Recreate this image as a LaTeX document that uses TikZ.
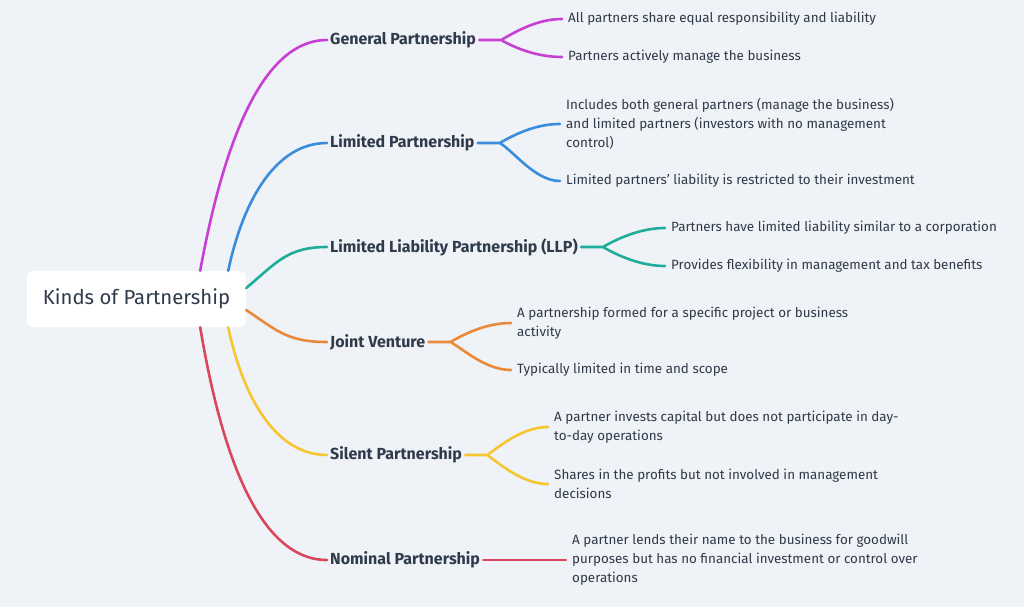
\documentclass[tikz,border=0pt]{standalone}
\usepackage{fontspec}
\setmainfont{Fira Sans}
\usetikzlibrary{positioning}
\definecolor{bgcol}{HTML}{EFF2F6}
\definecolor{txtcol}{HTML}{2F3A4A}
\definecolor{cmag}{HTML}{C83FD6}
\definecolor{cblue}{HTML}{3A8DDC}
\definecolor{cteal}{HTML}{1FAD9B}
\definecolor{corange}{HTML}{E98A3B}
\definecolor{cyellow}{HTML}{F6C631}
\definecolor{cred}{HTML}{D8475B}

\begin{document}
\begin{tikzpicture}[x=1pt,y=-1pt,
    every node/.style={text=txtcol},
    rootbox/.style={fill=white,rounded corners=6pt,minimum width=219pt,minimum height=56pt,
      font=\fontsize{20.3}{24}\selectfont},
    kind/.style={anchor=west,inner xsep=3pt,font=\fontsize{16}{19}\selectfont\bfseries},
    leaf/.style={anchor=west,inner xsep=0pt,align=left,font=\fontsize{13.4}{19}\selectfont},
    wire/.style={line width=2.6pt,line cap=round}]
  % background and bounding box
  \fill[bgcol] (0,0) rectangle (1024,607);
  \useasboundingbox (0,0) rectangle (1024,607);

  \node[rootbox] (root) at (136.5,299) {Kinds of Partnership};

  % kinds
  \node[kind] (gp)  at (327,40)  {General Partnership};
  \node[kind] (lp)  at (327,143) {Limited Partnership};
  \node[kind] (llp) at (327,247) {Limited Liability Partnership (LLP)};
  \node[kind] (jv)  at (327,342) {Joint Venture};
  \node[kind] (sp)  at (327,455) {Silent Partnership};
  \node[kind] (np)  at (327,560) {Nominal Partnership};

  % details
  \node[leaf] (gp_1) at (568,19)  {All partners share equal responsibility and liability};
  \node[leaf] (gp_2) at (568,57)  {Partners actively manage the business};
  \node[leaf] (lp_1) at (566,124) {Includes both general partners (manage the business)\\and limited partners (investors with no management\\control)};
  \node[leaf] (lp_2) at (566,181) {Limited partners’ liability is restricted to their investment};
  \node[leaf] (llp_1) at (671,228) {Partners have limited liability similar to a corporation};
  \node[leaf] (llp_2) at (671,266) {Provides flexibility in management and tax benefits};
  \node[leaf] (jv_1) at (517,323) {A partnership formed for a specific project or business\\activity};
  \node[leaf] (jv_2) at (517,370) {Typically limited in time and scope};
  \node[leaf] (sp_1) at (554,427) {A partner invests capital but does not participate in day-\\to-day operations};
  \node[leaf] (sp_2) at (554,484) {Shares in the profits but not involved in management\\decisions};
  \node[leaf] (np_1) at (572,560) {A partner lends their name to the business for goodwill\\purposes but has no financial investment or control over\\operations};

  % root to kinds
  \draw[wire,cmag] ([xshift=-46pt]root.north east) .. controls +(20,-110) and +(-70,0) .. (gp.west);
  \draw[wire,cblue] ([xshift=-18pt]root.north east) .. controls +(15,-71) and +(-51,0) .. (lp.west);
  \draw[wire,cteal] ([yshift=11pt]root.east) .. controls +(30,-25) and +(-40,0) .. (llp.west);
  \draw[wire,corange] ([yshift=-11pt]root.east) .. controls +(30,20) and +(-40,0) .. (jv.west);
  \draw[wire,cyellow] ([xshift=-18pt]root.south east) .. controls +(15,71) and +(-51,0) .. (sp.west);
  \draw[wire,cred] ([xshift=-46pt]root.south east) .. controls +(20,120) and +(-70,0) .. (np.west);

  % kinds to details
  \coordinate (gp_f)  at ([xshift=22pt]gp.east);
  \coordinate (lp_f)  at ([xshift=22pt]lp.east);
  \coordinate (llp_f) at ([xshift=22pt]llp.east);
  \coordinate (jv_f)  at ([xshift=22pt]jv.east);
  \coordinate (sp_f)  at ([xshift=22pt]sp.east);

  \draw[wire,cmag] (gp.east) -- (gp_f)
    (gp_f) .. controls +(14,-8) and +(-25,0) .. ([xshift=-6pt]gp_1.west)
    (gp_f) .. controls +(14,8) and +(-25,0) .. ([xshift=-6pt]gp_2.west);
  \draw[wire,cblue] (lp.east) -- (lp_f)
    (lp_f) .. controls +(14,-8) and +(-25,0) .. ([xshift=-6pt]lp_1.west)
    (lp_f) .. controls +(14,8) and +(-25,0) .. ([xshift=-6pt]lp_2.west);
  \draw[wire,cteal] (llp.east) -- (llp_f)
    (llp_f) .. controls +(14,-8) and +(-25,0) .. ([xshift=-6pt]llp_1.west)
    (llp_f) .. controls +(14,8) and +(-25,0) .. ([xshift=-6pt]llp_2.west);
  \draw[wire,corange] (jv.east) -- (jv_f)
    (jv_f) .. controls +(14,-8) and +(-25,0) .. ([xshift=-6pt]jv_1.west)
    (jv_f) .. controls +(14,8) and +(-25,0) .. ([xshift=-6pt]jv_2.west);
  \draw[wire,cyellow] (sp.east) -- (sp_f)
    (sp_f) .. controls +(14,-10) and +(-25,0) .. ([xshift=-6pt]sp_1.west)
    (sp_f) .. controls +(14,10) and +(-25,0) .. ([xshift=-6pt]sp_2.west);
  \draw[wire,cred] (np.east) -- ([xshift=-6pt]np_1.west);
\end{tikzpicture}
\end{document}
